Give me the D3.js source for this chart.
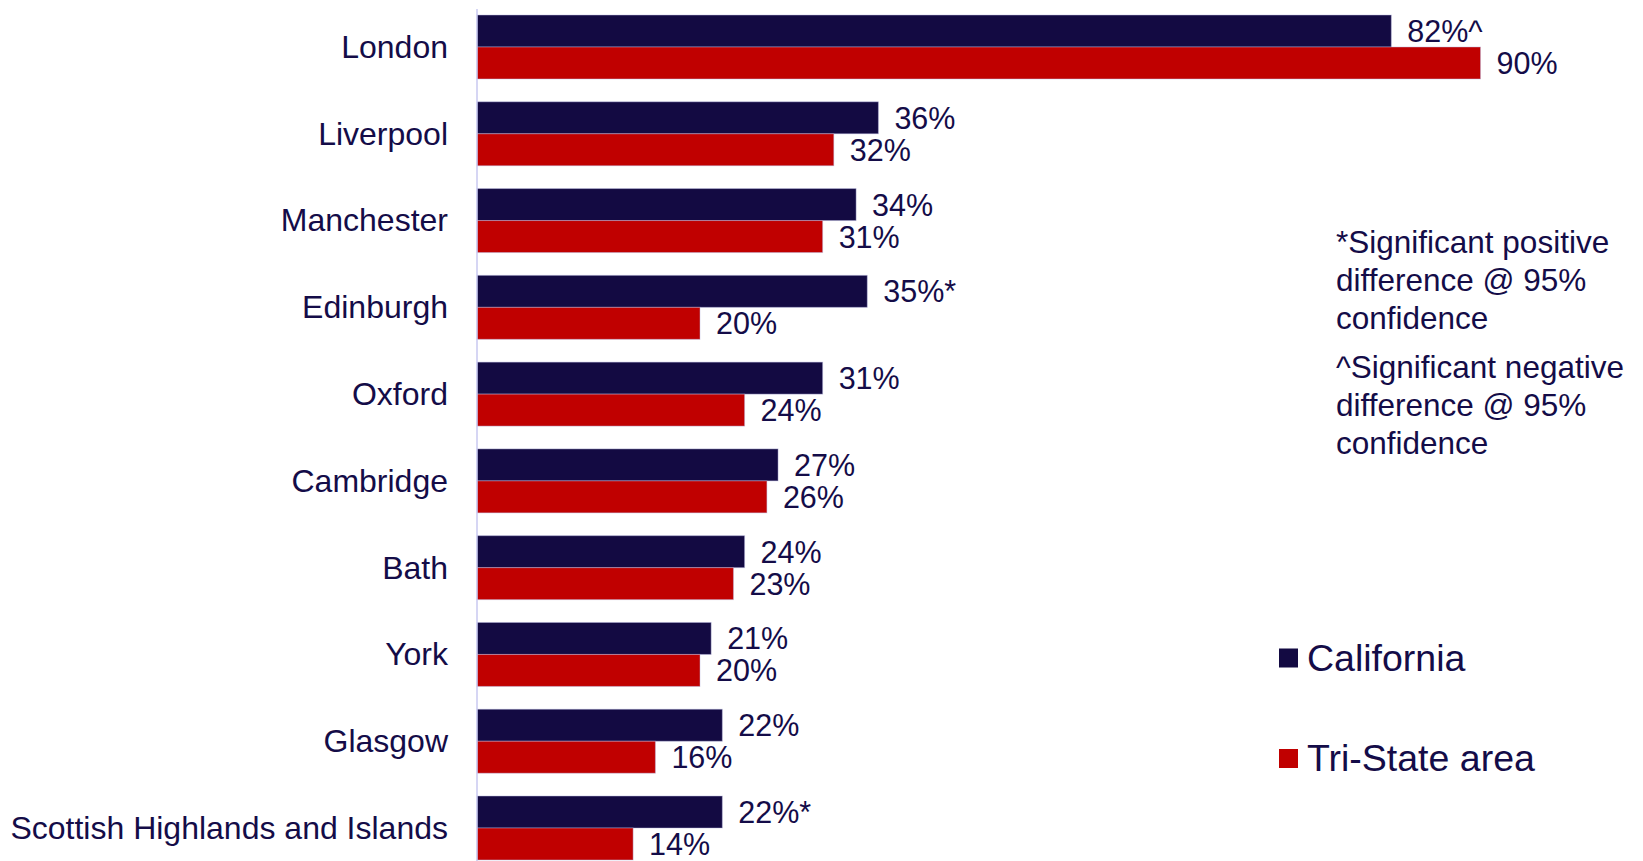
<!DOCTYPE html>
<html>
<head>
<meta charset="utf-8">
<script src="https://cdn.jsdelivr.net/npm/d3@7"></script>
<style>
  html, body { margin: 0; padding: 0; background: #ffffff; }
  svg { display: block; font-family: "Liberation Sans", Arial, sans-serif; }
</style>
</head>
<body>
<svg id="chart" width="1643" height="861"></svg>
<script>
const categories = ["London", "Liverpool", "Manchester", "Edinburgh", "Oxford", "Cambridge", "Bath", "York", "Glasgow", "Scottish Highlands and Islands"];
const series = ["California", "Tri-State area"];
const california = [82, 36, 34, 35, 31, 27, 24, 21, 22, 22];
const triState = [90, 32, 31, 20, 24, 26, 23, 20, 16, 14];
const californiaMarks = ["^", "", "", "*", "", "", "", "", "", "*"];
const triStateMarks = ["", "", "", "", "", "", "", "", "", ""];
const notes = [
  ["*Significant positive", "difference @ 95%", "confidence"],
  ["^Significant negative", "difference @ 95%", "confidence"]
];

const colors = { "California": "#130a42", "Tri-State area": "#c00000" };
const textColor = "#140c48";

const svg = d3.select("#chart");

const x = d3.scaleLinear().domain([0, 100]).range([477, 1592]);
const y = d3.scaleBand().domain(categories).range([4, 871]).paddingInner(0.263).paddingOuter(0.127);
const ySub = d3.scaleBand().domain(series).range([0, y.bandwidth()]);

const rows = categories.map((c, i) => ({
  category: c,
  values: [
    { series: "California", value: california[i], mark: californiaMarks[i] },
    { series: "Tri-State area", value: triState[i], mark: triStateMarks[i] }
  ]
}));

const groups = svg.append("g").selectAll("g")
  .data(rows).join("g")
  .attr("transform", d => `translate(0,${y(d.category)})`);

groups.selectAll("rect")
  .data(d => d.values).join("rect")
  .attr("x", x(0))
  .attr("y", d => ySub(d.series))
  .attr("width", d => x(d.value) - x(0))
  .attr("height", ySub.bandwidth())
  .attr("fill", d => colors[d.series])
  .attr("stroke", "#b8b8e0")
  .attr("stroke-opacity", 0.45)
  .attr("stroke-width", 1);

groups.selectAll("text.val")
  .data(d => d.values).join("text")
  .attr("class", "val")
  .attr("x", d => x(d.value) + 16)
  .attr("y", d => ySub(d.series) + ySub.bandwidth() / 2)
  .attr("dy", "0.36em")
  .attr("fill", textColor)
  .attr("font-size", "30.5px")
  .text(d => d.value + "%" + d.mark);

// Category axis
const axis = svg.append("g")
  .attr("transform", `translate(${x(0)},0)`)
  .call(d3.axisLeft(y).tickSizeInner(0).tickSizeOuter(0).tickPadding(29));
axis.select(".domain").attr("stroke", "#c8c8f0").attr("stroke-width", 1.5)
  .attr("d", `M0,9V861`);
axis.selectAll(".tick text")
  .attr("fill", textColor)
  .attr("font-size", "32px")
  .attr("font-family", "'Liberation Sans', Arial, sans-serif")
  .attr("dy", "0.34em");

// Notes
const noteG = svg.append("g").attr("fill", textColor).attr("font-size", "31.5px");
const noteBaselines = [[253, 291, 329], [378, 416, 454]];
notes.forEach((para, p) => {
  para.forEach((line, l) => {
    noteG.append("text")
      .attr("x", 1336)
      .attr("y", noteBaselines[p][l])
      .text(line);
  });
});

// Legend
const legend = svg.append("g").selectAll("g")
  .data(series).join("g")
  .attr("transform", (d, i) => `translate(1279,${658 + i * 100.5})`);
legend.append("rect")
  .attr("x", 0).attr("y", -9.5)
  .attr("width", 19).attr("height", 19)
  .attr("fill", d => colors[d]);
legend.append("text")
  .attr("x", 28).attr("y", 0).attr("dy", "0.34em")
  .attr("fill", textColor)
  .attr("font-size", "37.5px")
  .text(d => d);
</script>
</body>
</html>
